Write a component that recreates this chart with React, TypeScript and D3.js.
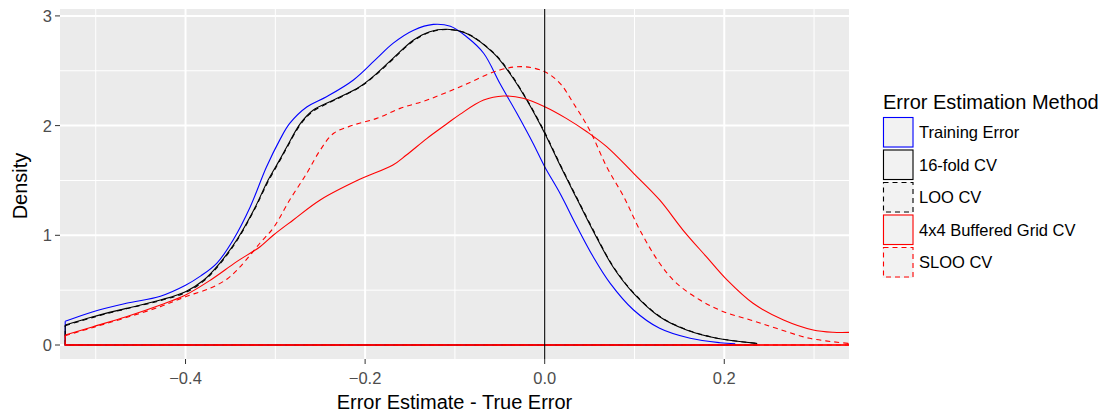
import React from 'react';
import * as d3 from 'd3';

// density curves: [error estimate - true error, density]
const trainingError: [number, number][] = [
  [-0.534, 0.216], [-0.503, 0.304], [-0.466, 0.38], [-0.428, 0.445], [-0.4, 0.545],
  [-0.383, 0.63], [-0.365, 0.747], [-0.347, 0.957], [-0.328, 1.258], [-0.31, 1.62],
  [-0.295, 1.87], [-0.284, 2.02], [-0.265, 2.17], [-0.243, 2.263], [-0.213, 2.416],
  [-0.187, 2.613], [-0.169, 2.75], [-0.146, 2.87], [-0.124, 2.923], [-0.105, 2.905],
  [-0.087, 2.81], [-0.068, 2.66], [-0.05, 2.386], [-0.031, 2.112], [-0.013, 1.839],
  [0, 1.625], [0.017, 1.383], [0.036, 1.078], [0.054, 0.805], [0.073, 0.562],
  [0.099, 0.319], [0.128, 0.152], [0.162, 0.061], [0.195, 0.021], [0.212, 0.012],
];

const fold16: [number, number][] = [
  [-0.534, 0.182], [-0.503, 0.258], [-0.466, 0.334], [-0.428, 0.41], [-0.4, 0.486],
  [-0.38, 0.59], [-0.362, 0.745], [-0.343, 0.957], [-0.324, 1.23], [-0.308, 1.504],
  [-0.295, 1.69], [-0.287, 1.81], [-0.272, 2.02], [-0.258, 2.14], [-0.235, 2.233],
  [-0.206, 2.355], [-0.187, 2.476], [-0.169, 2.613], [-0.146, 2.78], [-0.128, 2.856],
  [-0.109, 2.878], [-0.087, 2.84], [-0.057, 2.66], [-0.039, 2.477], [-0.02, 2.233],
  [0, 1.93], [0.017, 1.64], [0.036, 1.33], [0.054, 1.04], [0.076, 0.714],
  [0.099, 0.471], [0.128, 0.258], [0.158, 0.137], [0.192, 0.061], [0.236, 0.015],
];

const looCv: [number, number][] = [
  [-0.534, 0.176], [-0.503, 0.252], [-0.466, 0.33], [-0.428, 0.405], [-0.4, 0.478],
  [-0.38, 0.582], [-0.362, 0.735], [-0.343, 0.948], [-0.324, 1.222], [-0.308, 1.49],
  [-0.295, 1.68], [-0.287, 1.8], [-0.272, 2.01], [-0.258, 2.13], [-0.235, 2.228],
  [-0.206, 2.35], [-0.187, 2.47], [-0.169, 2.605], [-0.146, 2.774], [-0.128, 2.85],
  [-0.109, 2.876], [-0.087, 2.842], [-0.057, 2.665], [-0.039, 2.485], [-0.02, 2.24],
  [0, 1.94], [0.017, 1.65], [0.036, 1.34], [0.054, 1.05], [0.076, 0.72],
  [0.099, 0.476], [0.128, 0.262], [0.158, 0.14], [0.192, 0.062], [0.236, 0.015],
];

const bufferedGrid: [number, number][] = [
  [-0.534, 0.091], [-0.503, 0.167], [-0.466, 0.258], [-0.428, 0.365], [-0.4, 0.456],
  [-0.372, 0.593], [-0.343, 0.76], [-0.317, 0.896], [-0.302, 1.003], [-0.28, 1.14],
  [-0.25, 1.322], [-0.206, 1.51], [-0.169, 1.641], [-0.154, 1.732], [-0.131, 1.884],
  [-0.11, 2.01], [-0.094, 2.105], [-0.068, 2.233], [-0.046, 2.27], [-0.024, 2.249],
  [0, 2.172], [0.024, 2.066], [0.047, 1.944], [0.069, 1.808], [0.099, 1.565],
  [0.128, 1.322], [0.154, 1.048], [0.18, 0.805], [0.203, 0.593], [0.232, 0.38],
  [0.266, 0.228], [0.299, 0.137], [0.321, 0.116], [0.345, 0.116],
];

const slooCv: [number, number][] = [
  [-0.534, 0.085], [-0.503, 0.16], [-0.466, 0.25], [-0.428, 0.35], [-0.4, 0.44],
  [-0.372, 0.52], [-0.354, 0.6], [-0.343, 0.68], [-0.332, 0.78], [-0.317, 0.93],
  [-0.302, 1.07], [-0.284, 1.322], [-0.265, 1.565], [-0.25, 1.777], [-0.235, 1.93],
  [-0.213, 2.005], [-0.187, 2.066], [-0.161, 2.157], [-0.131, 2.233], [-0.094, 2.355],
  [-0.05, 2.507], [-0.024, 2.537], [0, 2.491], [0.017, 2.386], [0.032, 2.203],
  [0.05, 1.96], [0.069, 1.625], [0.088, 1.352], [0.106, 1.048], [0.128, 0.745],
  [0.147, 0.562], [0.173, 0.41], [0.199, 0.304], [0.229, 0.228], [0.258, 0.152],
  [0.295, 0.061], [0.338, 0.015],
];

const methods = ['Training Error', '16-fold CV', 'LOO CV', '4x4 Buffered Grid CV', 'SLOO CV'];
const methodColors = ['#0000FF', '#000000', '#000000', '#FF0000', '#FF0000'];
const methodDashed = [false, false, true, false, true];
const methodData = [trainingError, fold16, looCv, bufferedGrid, slooCv];

const xMajor = [-0.4, -0.2, 0, 0.2];
const xMinor = [-0.5, -0.3, -0.1, 0.1, 0.3];
const yMajor = [0, 1, 2, 3];
const yMinor = [0.5, 1.5, 2.5];

const W = 1104;
const H = 415;
const panel = { left: 60, right: 849, top: 9, bottom: 359 };
const FONT = "'Liberation Sans', Arial, Helvetica, sans-serif";

export default function App() {
  const x = d3.scaleLinear().domain([-0.5398, 0.3389]).range([panel.left, panel.right]);
  const y = d3.scaleLinear().domain([-0.1276, 3.063]).range([panel.bottom, panel.top]);

  const curve = d3.line<[number, number]>()
    .x((d) => x(d[0]))
    .y((d) => y(d[1]))
    .curve(d3.curveCatmullRom.alpha(0.5));
  const straight = d3.line<[number, number]>().x((d) => x(d[0])).y((d) => y(d[1]));

  const fmt = (v: number) => (v === 0 ? '0.0' : d3.format('.1f')(v));

  const keyTop = 117.5;
  const keyStep = 32.5;
  const red = methodData[3];

  return (
    <svg width={W} height={H} style={{ position: 'absolute', left: 0, top: 0, background: '#fff' }}>
      <defs>
        <clipPath id="panel-clip">
          <rect x={panel.left} y={panel.top} width={panel.right - panel.left} height={panel.bottom - panel.top} />
        </clipPath>
      </defs>
      <rect x={panel.left} y={panel.top} width={panel.right - panel.left} height={panel.bottom - panel.top} fill="#EBEBEB" />
      {yMinor.map((v) => (
        <line key={'ym' + v} x1={panel.left} x2={panel.right} y1={y(v)} y2={y(v)} stroke="#fff" strokeWidth={1} />
      ))}
      {xMinor.map((v) => (
        <line key={'xm' + v} x1={x(v)} x2={x(v)} y1={panel.top} y2={panel.bottom} stroke="#fff" strokeWidth={1} />
      ))}
      {yMajor.map((v) => (
        <line key={'yM' + v} x1={panel.left} x2={panel.right} y1={y(v)} y2={y(v)} stroke="#fff" strokeWidth={2} />
      ))}
      {xMajor.map((v) => (
        <line key={'xM' + v} x1={x(v)} x2={x(v)} y1={panel.top} y2={panel.bottom} stroke="#fff" strokeWidth={2} />
      ))}

      <g clipPath="url(#panel-clip)" fill="none">
        {methodData.map((data, i) => {
          const first = data[0];
          const last = data[data.length - 1];
          const dash = methodDashed[i] ? '5,4' : undefined;
          return (
            <g key={methods[i]} stroke={methodColors[i]} strokeWidth={1.1} strokeDasharray={dash}>
              <path d={curve(data) || ''} />
              <path d={straight([last, [last[0], 0], [first[0], 0], first]) || ''} />
            </g>
          );
        })}
        {/* solid red baseline shows on top in the reference */}
        <path d={straight([[red[0][0], 0], [red[red.length - 1][0], 0]]) || ''} stroke="#FF0000" strokeWidth={1.3} />
        <line x1={x(0)} x2={x(0)} y1={panel.top} y2={panel.bottom} stroke="#000" strokeWidth={1.1} />
      </g>

      {/* y axis */}
      {yMajor.map((v) => (
        <g key={'yt' + v}>
          <line x1={panel.left - 5} x2={panel.left} y1={y(v)} y2={y(v)} stroke="#333" strokeWidth={1} />
          <text x={panel.left - 8} y={y(v)} dy="0.36em" textAnchor="end" fontFamily={FONT} fontSize={16.5} fill="#4D4D4D">
            {v}
          </text>
        </g>
      ))}
      {/* x axis */}
      {xMajor.map((v) => (
        <g key={'xt' + v}>
          <line x1={x(v)} x2={x(v)} y1={panel.bottom} y2={panel.bottom + 5} stroke="#333" strokeWidth={1} />
          <text x={x(v)} y={383.5} textAnchor="middle" fontFamily={FONT} fontSize={16.5} fill="#4D4D4D">
            {fmt(v)}
          </text>
        </g>
      ))}
      <text x={(panel.left + panel.right) / 2} y={409} textAnchor="middle" fontFamily={FONT} fontSize={20} fill="#000">
        Error Estimate - True Error
      </text>
      <text transform={`translate(27,${(panel.top + panel.bottom) / 2 + 2}) rotate(-90)`} textAnchor="middle" fontFamily={FONT} fontSize={20} fill="#000">
        Density
      </text>

      {/* legend */}
      <text x={883} y={109} fontFamily={FONT} fontSize={20} fill="#000">Error Estimation Method</text>
      {methods.map((m, i) => {
        const ky = keyTop + i * keyStep;
        return (
          <g key={'lg' + m}>
            <rect x={882} y={ky - 1} width={32} height={32} fill="#F2F2F2" stroke="#fff" />
            <rect x={883.5} y={ky} width={29.5} height={29.5} fill="#F2F2F2" stroke={methodColors[i]}
              strokeWidth={1.1} strokeDasharray={methodDashed[i] ? '5,4' : undefined} />
            <text x={919} y={ky + 15} dy="0.36em" fontFamily={FONT} fontSize={16.5} fill="#000">{m}</text>
          </g>
        );
      })}
    </svg>
  );
}
